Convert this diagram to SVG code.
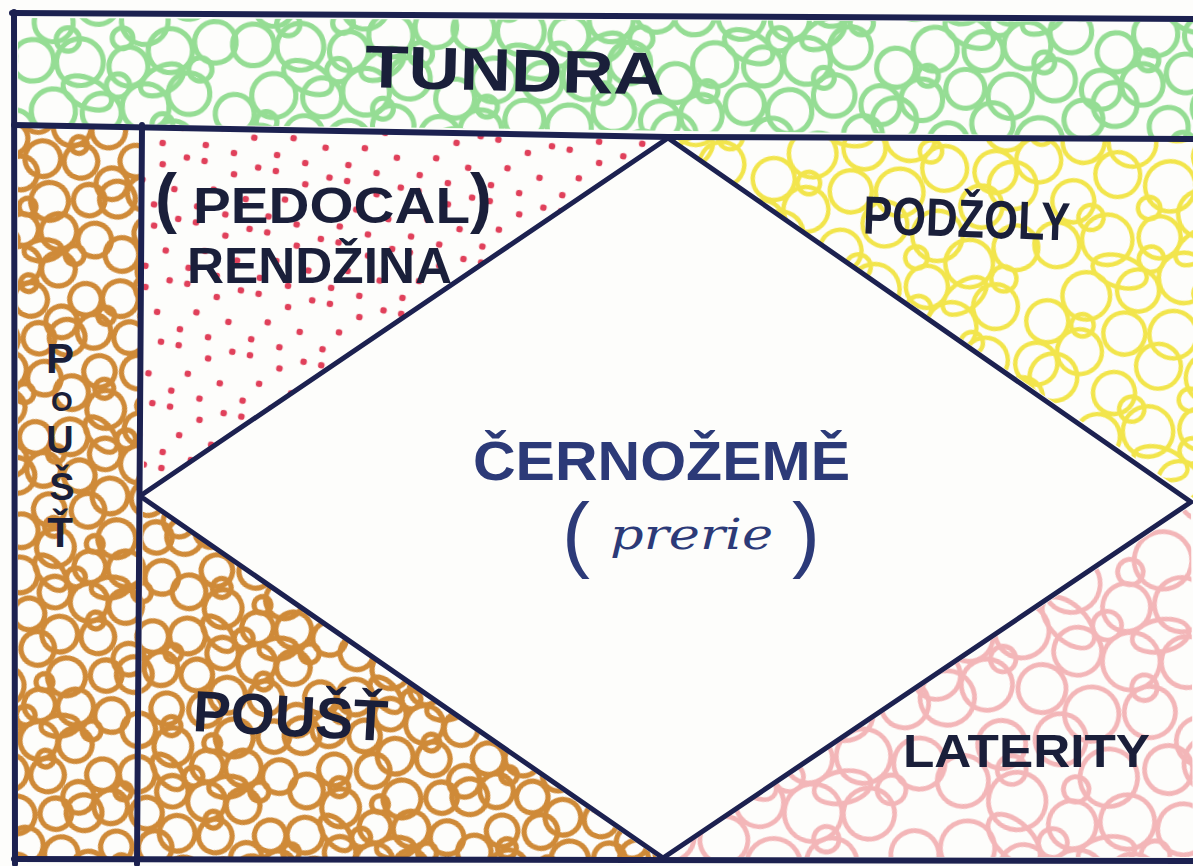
<svg xmlns="http://www.w3.org/2000/svg" xmlns:xlink="http://www.w3.org/1999/xlink" width="1193" height="866" viewBox="0 0 1193 866">
<style>
.ink{fill:none;stroke:#1c2150;stroke-linecap:round;stroke-linejoin:round}
.lbl{font-family:"Liberation Sans","DejaVu Sans",sans-serif;font-weight:bold;fill:#1a1f3a}
.par{font-family:"Liberation Sans","DejaVu Sans",sans-serif;font-weight:normal;fill:#1a1f3a}
.blue{fill:#2c3a78}
.hand{font-family:"DejaVu Serif","Liberation Serif",serif;font-style:italic;fill:#2c3a78}
</style>
<defs>
<g id="loops" fill="none">
<circle cx="0" cy="0" r="17"/><circle cx="170" cy="0" r="17"/><circle cx="0" cy="140" r="17"/><circle cx="170" cy="140" r="17"/>
<circle cx="40" cy="20" r="15"/>
<circle cx="75" cy="8" r="16"/><circle cx="75" cy="148" r="16"/>
<circle cx="110" cy="24" r="18"/>
<circle cx="145" cy="10" r="15"/><circle cx="145" cy="150" r="15"/>
<circle cx="22" cy="48" r="16"/>
<circle cx="58" cy="52" r="18"/>
<circle cx="95" cy="58" r="15"/>
<circle cx="128" cy="48" r="17"/>
<circle cx="163" cy="44" r="16"/><circle cx="-7" cy="44" r="16"/>
<circle cx="35" cy="88" r="17"/>
<circle cx="72" cy="92" r="15"/>
<circle cx="106" cy="90" r="18"/>
<circle cx="140" cy="82" r="16"/>
<circle cx="4" cy="100" r="15"/><circle cx="174" cy="100" r="15"/>
<circle cx="22" cy="126" r="16"/><circle cx="22" cy="-14" r="16"/>
<circle cx="56" cy="120" r="15"/>
<circle cx="90" cy="128" r="17"/><circle cx="90" cy="-12" r="17"/>
<circle cx="125" cy="118" r="16"/>
<circle cx="160" cy="128" r="15"/><circle cx="160" cy="-12" r="15"/><circle cx="-10" cy="128" r="15"/><circle cx="-10" cy="-12" r="15"/>
<circle cx="50" cy="34" r="9"/><circle cx="86" cy="72" r="9"/><circle cx="118" cy="104" r="8"/>
<circle cx="150" cy="64" r="9"/><circle cx="28" cy="108" r="8"/><circle cx="92" cy="36" r="8"/>
<ellipse cx="62" cy="76" rx="20" ry="11" transform="rotate(30 62 76)"/>
<ellipse cx="120" cy="70" rx="18" ry="10" transform="rotate(-25 120 70)"/>
</g>
<pattern id="pGreen" width="170" height="140" patternUnits="userSpaceOnUse" patternTransform="rotate(-4) scale(1.3)">
<use xlink:href="#loops" href="#loops" stroke="#95dd94" stroke-width="4"/>
</pattern>
<pattern id="pOrange" width="170" height="140" patternUnits="userSpaceOnUse" patternTransform="rotate(20) scale(1.05)">
<use xlink:href="#loops" href="#loops" stroke="#cf8a38" stroke-width="5"/>
</pattern>
<pattern id="pYellow" width="170" height="140" patternUnits="userSpaceOnUse" patternTransform="rotate(-12) scale(1.4)">
<use xlink:href="#loops" href="#loops" stroke="#f2e54c" stroke-width="3.2"/>
</pattern>
<pattern id="pPink" width="170" height="140" patternUnits="userSpaceOnUse" patternTransform="rotate(14) scale(1.6)">
<use xlink:href="#loops" href="#loops" stroke="#f3b6b8" stroke-width="3"/>
</pattern>
<pattern id="pDots" width="72" height="62" patternUnits="userSpaceOnUse" patternTransform="rotate(8)">
<g fill="#e0405a">
<circle cx="9" cy="7" r="3.3"/><circle cx="40" cy="16" r="3.3"/><circle cx="63" cy="6" r="3.3"/>
<circle cx="22" cy="34" r="3.3"/><circle cx="55" cy="39" r="3.3"/><circle cx="8" cy="53" r="3.3"/><circle cx="37" cy="57" r="3.3"/>
</g>
</pattern>
</defs>
<rect width="1193" height="866" fill="#fdfdfb"/>

<g id="tundra">
<polygon points="18,18 1193,22 1193,137 18,123" fill="url(#pGreen)"/>
<text class="lbl" x="365" y="91" font-size="60" textLength="300" lengthAdjust="spacingAndGlyphs" transform="rotate(1.5 515 70)">TUNDRA</text>
</g>

<g id="poust-strip">
<polygon points="18,128 139,128 137,857 18,857" fill="url(#pOrange)"/>
<text class="lbl" x="60" y="373" font-size="42" text-anchor="middle">P</text>
<text class="lbl" x="62" y="411" font-size="28" text-anchor="middle">O</text>
<text class="lbl" x="60" y="453" font-size="38" text-anchor="middle">U</text>
<text class="lbl" x="62" y="500" font-size="38" text-anchor="middle">Š</text>
<text class="lbl" x="60" y="547" font-size="42" text-anchor="middle">Ť</text>
</g>

<g id="pedocal">
<polygon points="143,130 665,139 144,494" fill="url(#pDots)"/>
<text class="lbl" x="155" y="220" font-size="66">(</text>
<text class="lbl" x="193" y="223" font-size="50" textLength="277" lengthAdjust="spacingAndGlyphs">PEDOCAL</text>
<text class="lbl" x="470" y="220" font-size="66">)</text>
<text class="lbl" x="187" y="283" font-size="50" textLength="265" lengthAdjust="spacingAndGlyphs">RENDŽINA</text>
</g>

<g id="podzoly">
<polygon points="672,140 1193,141 1193,498" fill="url(#pYellow)"/>
<text class="lbl" x="863" y="237" font-size="54" textLength="207" lengthAdjust="spacingAndGlyphs" transform="rotate(2 966 218)">PODŽOLY</text>
</g>

<g id="poust">
<polygon points="143,500 657,857 140,857" fill="url(#pOrange)"/>
<text class="lbl" x="193" y="736" font-size="58" textLength="195" lengthAdjust="spacingAndGlyphs" transform="rotate(3 290 715)">POUŠŤ</text>
</g>

<g id="laterity">
<polygon points="668,857 1191,506 1193,857" fill="url(#pPink)"/>
<text class="lbl" x="903" y="767" font-size="46" textLength="247" lengthAdjust="spacingAndGlyphs">LATERITY</text>
</g>

<g id="lines">
<path class="ink" stroke-width="6" d="M12,13 L1193,19"/>
<path class="ink" stroke-width="6" d="M14,12 L15,864"/>
<path class="ink" stroke-width="6" d="M14,859 L1193,861"/>
<path class="ink" stroke-width="6" d="M14,125 L668,137 L1193,139"/>
<path class="ink" stroke-width="6" d="M142,125 L137,864"/>
<path class="ink" stroke-width="5" d="M140,496 L668,138 L1191,502 L663,858 Z"/>
</g>

<g id="cernozeme">
<text class="lbl blue" x="473" y="480" font-size="56" textLength="377" lengthAdjust="spacingAndGlyphs">ČERNOŽEMĚ</text>
<text class="par blue" x="562" y="562" font-size="84">(</text>
<text class="hand" x="610" y="549" font-size="42" textLength="163" lengthAdjust="spacingAndGlyphs">prerie</text>
<text class="par blue" x="792" y="562" font-size="84">)</text>
</g>
</svg>
